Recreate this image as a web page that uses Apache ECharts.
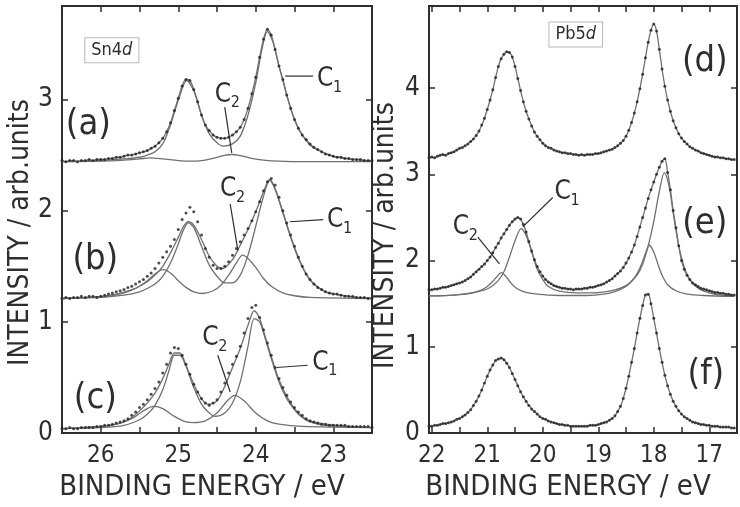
<!DOCTYPE html>
<html>
<head>
<meta charset="utf-8">
<title>Sn4d / Pb5d</title>
<script src="https://cdn.jsdelivr.net/npm/echarts@6/dist/echarts.min.js"></script>
<style>
  html, body { margin: 0; padding: 0; background: #fff; }
  #chart { width: 740px; height: 507px; }
</style>
</head>
<body>
<div id="chart"></div>
<script>
/* ---------------- style ---------------- */
const FONT = "'Liberation Sans Narrow','DejaVu Sans Condensed','Liberation Sans',sans-serif";
const INK = '#2e2e2e';
const FIT = '#707070';

/* ---------------- energy grids of the measured points (eV) ---------------- */
function energyGrid(from, to, step) {
  const out = [];
  const n = Math.round((from - to) / step);
  for (let i = 0; i <= n; i++) out.push(+(from - i * step).toFixed(2));
  return out;
}
const snEnergy = energyGrid(26.5, 22.5, 0.05);   // 81 points
const pbEnergy = energyGrid(22.05, 16.55, 0.05); // 111 points

/* ---------------- Sn4d measured intensities ---------------- */
const snA = [
  2.45, 2.44, 2.45, 2.45, 2.44, 2.45, 2.45, 2.46, 2.45, 2.46,
  2.46, 2.46, 2.47, 2.47, 2.48, 2.48, 2.49, 2.50, 2.50, 2.51,
  2.52, 2.53, 2.54, 2.56, 2.58, 2.61, 2.65, 2.71, 2.79, 2.90,
  3.01, 3.12, 3.18, 3.17, 3.09, 2.98, 2.86, 2.77, 2.72, 2.68,
  2.66, 2.65, 2.65, 2.66, 2.68, 2.71, 2.75, 2.82, 2.92, 3.05,
  3.20, 3.38, 3.54, 3.63, 3.58, 3.45, 3.30, 3.18, 3.04, 2.92,
  2.82, 2.74, 2.68, 2.64, 2.60, 2.57, 2.55, 2.53, 2.51, 2.50,
  2.49, 2.48, 2.48, 2.47, 2.47, 2.46, 2.46, 2.46, 2.45, 2.45,
  2.45
];
const snB = [
  1.21, 1.22, 1.21, 1.22, 1.22, 1.23, 1.22, 1.23, 1.23, 1.22,
  1.23, 1.24, 1.25, 1.26, 1.27, 1.28, 1.29, 1.31, 1.32, 1.34,
  1.36, 1.38, 1.41, 1.44, 1.48, 1.53, 1.58, 1.63, 1.68, 1.74,
  1.83, 1.92, 1.98, 2.03, 1.99, 1.90, 1.78, 1.66, 1.58, 1.51,
  1.48, 1.48, 1.50, 1.54, 1.60, 1.66, 1.72, 1.78, 1.84, 1.91,
  1.99, 2.08, 2.18, 2.26, 2.29, 2.23, 2.12, 2.00, 1.89, 1.78,
  1.68, 1.58, 1.50, 1.43, 1.38, 1.34, 1.31, 1.29, 1.27, 1.26,
  1.25, 1.25, 1.24, 1.23, 1.23, 1.23, 1.22, 1.22, 1.22, 1.21,
  1.21
];
const snC = [
  0.04, 0.04, 0.05, 0.04, 0.04, 0.05, 0.05, 0.05, 0.05, 0.06,
  0.06, 0.07, 0.07, 0.08, 0.09, 0.10, 0.11, 0.13, 0.16, 0.19,
  0.23, 0.26, 0.30, 0.35, 0.40, 0.46, 0.54, 0.62, 0.72, 0.77,
  0.76, 0.70, 0.62, 0.53, 0.44, 0.37, 0.31, 0.27, 0.25, 0.27,
  0.30, 0.37, 0.45, 0.54, 0.62, 0.69, 0.78, 0.90, 1.03, 1.13,
  1.15, 1.04, 0.93, 0.81, 0.70, 0.59, 0.49, 0.41, 0.34, 0.28,
  0.23, 0.19, 0.16, 0.13, 0.11, 0.10, 0.09, 0.08, 0.08, 0.07,
  0.07, 0.07, 0.07, 0.07, 0.06, 0.06, 0.06, 0.06, 0.06, 0.06,
  0.05
];

/* ---------------- Pb5d measured intensities ---------------- */
const pbD = [
  3.19, 3.20, 3.19, 3.21, 3.22, 3.23, 3.22, 3.24, 3.25, 3.26,
  3.28, 3.30, 3.31, 3.33, 3.35, 3.38, 3.41, 3.45, 3.50, 3.57,
  3.65, 3.75, 3.86, 3.98, 4.12, 4.25, 4.34, 4.39, 4.42, 4.41,
  4.36, 4.25, 4.11, 3.97, 3.84, 3.73, 3.64, 3.56, 3.49, 3.44,
  3.40, 3.36, 3.33, 3.31, 3.30, 3.28, 3.27, 3.26, 3.25, 3.25,
  3.24, 3.24, 3.23, 3.23, 3.22, 3.23, 3.22, 3.23, 3.23, 3.23,
  3.24, 3.24, 3.25, 3.26, 3.27, 3.28, 3.29, 3.31, 3.33, 3.36,
  3.39, 3.44, 3.51, 3.60, 3.71, 3.84, 3.99, 4.16, 4.35, 4.53,
  4.67, 4.74, 4.66, 4.45, 4.22, 4.02, 3.86, 3.73, 3.62, 3.54,
  3.47, 3.42, 3.38, 3.35, 3.32, 3.30, 3.28, 3.27, 3.25, 3.24,
  3.23, 3.22, 3.21, 3.20, 3.20, 3.19, 3.19, 3.18, 3.18, 3.17,
  3.17
];
const pbE = [
  1.66, 1.66, 1.67, 1.67, 1.68, 1.69, 1.69, 1.70, 1.71, 1.72,
  1.73, 1.74, 1.75, 1.77, 1.79, 1.81, 1.84, 1.87, 1.90, 1.93,
  1.96, 2.00, 2.04, 2.09, 2.15, 2.20, 2.26, 2.31, 2.36, 2.41,
  2.45, 2.48, 2.50, 2.48, 2.42, 2.33, 2.22, 2.11, 2.01, 1.93,
  1.87, 1.82, 1.78, 1.75, 1.73, 1.71, 1.70, 1.69, 1.68, 1.68,
  1.67, 1.67, 1.66, 1.67, 1.67, 1.67, 1.68, 1.68, 1.69, 1.69,
  1.70, 1.71, 1.72, 1.73, 1.75, 1.77, 1.79, 1.82, 1.85, 1.88,
  1.92, 1.97, 2.03, 2.10, 2.18, 2.28, 2.39, 2.50, 2.61, 2.72,
  2.82, 2.91, 3.00, 3.08, 3.15, 3.18, 3.02, 2.82, 2.58, 2.38,
  2.17, 2.00, 1.90, 1.83, 1.78, 1.74, 1.72, 1.70, 1.68, 1.67,
  1.66, 1.65, 1.64, 1.63, 1.63, 1.62, 1.62, 1.61, 1.61, 1.60,
  1.60
];
const pbF = [
  0.08, 0.08, 0.09, 0.09, 0.10, 0.11, 0.11, 0.12, 0.13, 0.14,
  0.16, 0.17, 0.19, 0.21, 0.24, 0.27, 0.32, 0.37, 0.43, 0.50,
  0.58, 0.66, 0.73, 0.79, 0.84, 0.86, 0.87, 0.85, 0.81, 0.76,
  0.69, 0.62, 0.55, 0.48, 0.42, 0.37, 0.32, 0.28, 0.25, 0.22,
  0.19, 0.17, 0.16, 0.14, 0.13, 0.12, 0.11, 0.10, 0.10, 0.09,
  0.09, 0.08, 0.08, 0.08, 0.08, 0.08, 0.08, 0.08, 0.09, 0.09,
  0.09, 0.10, 0.11, 0.12, 0.13, 0.15, 0.17, 0.20, 0.25, 0.31,
  0.40, 0.52, 0.66, 0.82, 0.98, 1.16, 1.33, 1.48, 1.60, 1.61,
  1.50, 1.33, 1.16, 0.98, 0.82, 0.67, 0.55, 0.45, 0.37, 0.31,
  0.26, 0.22, 0.19, 0.17, 0.15, 0.13, 0.12, 0.11, 0.10, 0.10,
  0.09, 0.09, 0.08, 0.08, 0.08, 0.07, 0.07, 0.07, 0.07, 0.06,
  0.06
];

/* ---------------- fitted curves [eV, intensity] ---------------- */
const fitB = [[26.5,1.21],[26.2,1.22],[26.0,1.23],[25.8,1.25],[25.6,1.29],[25.5,1.32],[25.4,1.36],[25.3,1.42],[25.2,1.50],[25.1,1.62],[25.0,1.76],[24.93,1.86],[24.87,1.90],[24.8,1.87],[24.7,1.74],[24.6,1.59],[24.5,1.50],[24.43,1.48],[24.3,1.56],[24.2,1.69],[24.1,1.83],[24.0,1.99],[23.9,2.17],[23.82,2.28],[23.75,2.20],[23.65,1.99],[23.55,1.77],[23.45,1.58],[23.35,1.43],[23.25,1.34],[23.1,1.27],[22.9,1.24],[22.7,1.22],[22.5,1.21]];
const fitC = [[26.5,0.04],[26.2,0.05],[26.0,0.06],[25.8,0.08],[25.7,0.10],[25.6,0.14],[25.5,0.20],[25.4,0.27],[25.3,0.36],[25.2,0.49],[25.12,0.62],[25.05,0.72],[24.98,0.72],[24.9,0.61],[24.8,0.44],[24.7,0.31],[24.62,0.26],[24.5,0.29],[24.4,0.42],[24.3,0.59],[24.2,0.76],[24.1,0.97],[24.02,1.10],[23.95,1.03],[23.9,0.92],[23.8,0.69],[23.7,0.48],[23.6,0.33],[23.5,0.22],[23.4,0.15],[23.3,0.11],[23.1,0.08],[22.8,0.06],[22.5,0.05]];

const c1A = [[26.5,2.44],[26.0,2.45],[25.7,2.465],[25.5,2.48],[25.4,2.50],[25.3,2.53],[25.2,2.60],[25.1,2.77],[25.0,2.99],[24.89,3.17],[24.8,3.08],[24.7,2.86],[24.6,2.69],[24.5,2.61],[24.42,2.58],[24.3,2.60],[24.2,2.67],[24.1,2.86],[24.0,3.15],[23.92,3.45],[23.85,3.61],[23.78,3.52],[23.7,3.30],[23.6,3.04],[23.5,2.82],[23.4,2.68],[23.3,2.59],[23.2,2.545],[23.0,2.49],[22.8,2.465],[22.5,2.445]];
const c2A = [[26.5,2.44],[26.0,2.445],[25.7,2.455],[25.5,2.465],[25.37,2.474],[25.2,2.465],[25.0,2.45],[24.85,2.445],[24.7,2.45],[24.55,2.47],[24.42,2.495],[24.31,2.505],[24.2,2.495],[24.05,2.47],[23.9,2.455],[23.7,2.445],[23.4,2.44],[22.5,2.44]];
const c1B = [[26.5,1.21],[26.0,1.22],[25.7,1.24],[25.5,1.27],[25.4,1.30],[25.3,1.34],[25.2,1.41],[25.1,1.53],[25.0,1.70],[24.93,1.83],[24.87,1.89],[24.8,1.85],[24.7,1.68],[24.6,1.51],[24.5,1.41],[24.4,1.35],[24.3,1.35],[24.2,1.42],[24.1,1.60],[24.0,1.86],[23.9,2.13],[23.82,2.27],[23.75,2.19],[23.65,1.98],[23.55,1.76],[23.45,1.57],[23.35,1.43],[23.25,1.34],[23.1,1.27],[22.9,1.24],[22.7,1.22],[22.5,1.21]];
const c2B = [[26.5,1.21],[26.1,1.22],[25.9,1.23],[25.7,1.26],[25.55,1.30],[25.4,1.37],[25.3,1.43],[25.2,1.47],[25.1,1.44],[25.0,1.37],[24.9,1.31],[24.8,1.27],[24.68,1.255],[24.55,1.28],[24.45,1.33],[24.35,1.42],[24.25,1.53],[24.17,1.60],[24.1,1.57],[24.0,1.49],[23.9,1.39],[23.8,1.32],[23.65,1.26],[23.5,1.235],[23.3,1.22],[22.5,1.21]];
const c1C = [[26.5,0.04],[26.0,0.05],[25.7,0.07],[25.5,0.12],[25.4,0.17],[25.3,0.25],[25.2,0.39],[25.12,0.56],[25.05,0.70],[24.98,0.70],[24.9,0.60],[24.8,0.41],[24.7,0.26],[24.6,0.18],[24.52,0.15],[24.4,0.18],[24.3,0.27],[24.2,0.46],[24.1,0.78],[24.02,1.03],[23.95,1.00],[23.9,0.90],[23.8,0.67],[23.7,0.46],[23.6,0.31],[23.5,0.21],[23.4,0.14],[23.3,0.10],[23.1,0.07],[22.8,0.06],[22.5,0.05]];
const c2C = [[26.5,0.04],[26.2,0.05],[26.0,0.06],[25.8,0.08],[25.6,0.13],[25.45,0.20],[25.32,0.24],[25.2,0.22],[25.05,0.15],[24.9,0.10],[24.8,0.094],[24.65,0.11],[24.5,0.18],[24.38,0.28],[24.27,0.34],[24.15,0.29],[24.0,0.18],[23.85,0.11],[23.7,0.08],[23.4,0.06],[22.5,0.05]];
const c1E = [[22.05,1.59],[21.6,1.60],[21.2,1.635],[21.0,1.67],[20.9,1.71],[20.8,1.77],[20.7,1.87],[20.6,2.04],[20.5,2.23],[20.39,2.37],[20.3,2.29],[20.2,2.10],[20.1,1.90],[20.0,1.78],[19.9,1.70],[19.7,1.645],[19.4,1.625],[19.1,1.625],[18.8,1.645],[18.6,1.68],[18.45,1.73],[18.3,1.83],[18.2,1.96],[18.1,2.17],[18.0,2.45],[17.9,2.80],[17.81,3.02],[17.72,2.85],[17.65,2.55],[17.55,2.17],[17.45,1.92],[17.35,1.78],[17.2,1.68],[17.0,1.625],[16.8,1.60],[16.55,1.59]];
const c2E = [[22.05,1.59],[21.6,1.60],[21.3,1.62],[21.1,1.66],[21.0,1.70],[20.9,1.76],[20.83,1.81],[20.75,1.86],[20.67,1.82],[20.6,1.76],[20.5,1.69],[20.35,1.64],[20.1,1.61],[19.7,1.595],[19.2,1.595],[18.9,1.61],[18.7,1.64],[18.5,1.70],[18.4,1.76],[18.3,1.85],[18.2,1.99],[18.14,2.10],[18.08,2.18],[18.0,2.10],[17.92,1.95],[17.85,1.83],[17.75,1.72],[17.6,1.65],[17.4,1.61],[17.1,1.595],[16.55,1.585]];

/* ---------------- annotations (data coordinates) ---------------- */
// panel letters: [grid, text, E, I]
const panelTags = [
  [0, '(a)', 26.16, 2.77], [0, '(b)', 26.07, 1.56], [0, '(c)', 26.07, 0.31],
  [1, '(d)', 17.08, 4.30], [1, '(e)', 17.08, 2.43], [1, '(f)', 17.06, 0.68]
];
// component labels C_n: [grid, subscript, E, I] (left-middle of the "C")
const compTags = [
  [0, '1', 23.21, 3.18], [0, '2', 24.53, 3.04],
  [0, '1', 23.08, 1.91], [0, '2', 24.46, 2.19],
  [0, '1', 23.27, 0.63], [0, '2', 24.69, 0.85],
  [1, '1', 19.79, 2.79], [1, '2', 21.62, 2.38]
];
// leader lines: [grid, E1, I1, E2, I2]
const leaders = [
  [0, 23.62, 3.21, 23.26, 3.21], [0, 24.40, 2.93, 24.31, 2.52],
  [0, 23.56, 1.90, 23.13, 1.92], [0, 24.33, 2.06, 24.23, 1.64],
  [0, 23.73, 0.59, 23.33, 0.61], [0, 24.49, 0.70, 24.33, 0.37],
  [1, 19.82, 2.73, 20.36, 2.39], [1, 21.17, 2.27, 20.78, 1.96]
];
// element boxes: [grid, element, E, I] (top-left corner)
const elementBoxes = [[0, 'Sn4', 26.20, 3.55], [1, 'Pb5', 19.88, 4.76]];

/* ---------------- build ---------------- */
const zip = (xs, ys) => xs.map((x, i) => [x, ys[i]]);

function dots(g, xs, ys) {
  return {
    type: 'scatter', xAxisIndex: g * 2, yAxisIndex: g * 2,
    data: zip(xs, ys), symbolSize: 3, silent: true, z: 5,
    itemStyle: {color: '#222'}
  };
}
function curve(g, data) {
  return {
    type: 'line', xAxisIndex: g * 2, yAxisIndex: g * 2,
    data: data, showSymbol: false, smooth: 0.3, silent: true, z: 3,
    lineStyle: {color: FIT, width: 1.3}
  };
}

const series = [
  curve(0, zip(snEnergy, snA)), curve(0, c1A), curve(0, c2A),
  curve(0, fitB), curve(0, c1B), curve(0, c2B),
  curve(0, fitC), curve(0, c1C), curve(0, c2C),
  dots(0, snEnergy, snA), dots(0, snEnergy, snB), dots(0, snEnergy, snC),
  curve(1, zip(pbEnergy, pbD)), curve(1, zip(pbEnergy, pbE)), curve(1, c1E), curve(1, c2E),
  curve(1, zip(pbEnergy, pbF)),
  dots(1, pbEnergy, pbD), dots(1, pbEnergy, pbE), dots(1, pbEnergy, pbF)
];
const firstSeriesOfGrid = [0, 12];

const intLabel = v => (Number.isInteger(v) ? String(v) : '');

function xAxisOf(g, min, max, pos) {
  const ax = {
    gridIndex: g, type: 'value', position: pos, min: min, max: max, interval: 0.5, inverse: true,
    axisLine: {onZero: false, lineStyle: {color: INK, width: 2}},
    axisTick: {inside: true, length: 6, lineStyle: {color: INK, width: 1.5}},
    splitLine: {show: false},
    axisLabel: {show: false}
  };
  if (pos === 'bottom') {
    ax.axisLabel = {show: true, formatter: intLabel, color: INK, fontFamily: FONT, fontSize: 24, margin: 11};
    ax.name = 'BINDING ENERGY / eV';
    ax.nameLocation = 'middle';
    ax.nameGap = 32;
    ax.nameTextStyle = {color: INK, fontFamily: FONT, fontSize: 29, padding: [0, 30, 0, 0]};
  }
  return ax;
}
function yAxisOf(g, max, pos, gap, shift) {
  const ax = {
    gridIndex: g, type: 'value', position: pos, min: 0, max: max, interval: 1,
    axisLine: {onZero: false, lineStyle: {color: INK, width: 2}},
    axisTick: {inside: true, length: 6, lineStyle: {color: INK, width: 1.5}},
    splitLine: {show: false},
    axisLabel: {show: false}
  };
  if (pos === 'left') {
    ax.axisLabel = {show: true, formatter: intLabel, color: INK, fontFamily: FONT, fontSize: 26, margin: 9};
    ax.name = 'INTENSITY / arb.units';
    ax.nameLocation = 'middle';
    ax.nameGap = gap;
    // extra padding at the text end pushes the rotated title down the axis
    ax.nameTextStyle = {color: INK, fontFamily: FONT, fontSize: 28, padding: [0, shift, 0, 0]};
  }
  return ax;
}

const chart = echarts.init(document.getElementById('chart'));
chart.setOption({
  animation: false,
  backgroundColor: '#fff',
  grid: [
    {left: 62, top: 6, width: 310, height: 439},
    {left: 429, top: 6, width: 309, height: 437}
  ],
  xAxis: [
    xAxisOf(0, 22.5, 26.5, 'bottom'), xAxisOf(0, 22.5, 26.5, 'top'),
    xAxisOf(1, 16.5, 22.05, 'bottom'), xAxisOf(1, 16.5, 22.05, 'top')
  ],
  yAxis: [
    yAxisOf(0, 3.84, 'left', 23, 26), yAxisOf(0, 3.84, 'right'),
    yAxisOf(1, 4.95, 'left', 29, 32), yAxisOf(1, 4.95, 'right')
  ],
  series: series
});

/* ---------------- annotations placed through the axes ---------------- */
const toPx = (g, e, v) => chart.convertToPixel({seriesIndex: firstSeriesOfGrid[g]}, [e, v]);
const graphic = [];

panelTags.forEach(([g, t, e, v]) => {
  const p = toPx(g, e, v);
  graphic.push({type: 'text', x: p[0], y: p[1], z: 10, style: {
    text: t, fill: INK, fontFamily: FONT, fontSize: 36,
    align: 'center', verticalAlign: 'middle', textAlign: 'center', textVerticalAlign: 'middle'}});
});
compTags.forEach(([g, sub, e, v]) => {
  const p = toPx(g, e, v);
  graphic.push({type: 'text', x: p[0], y: p[1], z: 10, style: {
    text: 'C', fill: INK, fontFamily: FONT, fontSize: 26,
    align: 'left', verticalAlign: 'middle', textAlign: 'left', textVerticalAlign: 'middle'}});
  graphic.push({type: 'text', x: p[0] + 16, y: p[1] + 8, z: 10, style: {
    text: sub, fill: INK, fontFamily: FONT, fontSize: 16,
    align: 'left', verticalAlign: 'middle', textAlign: 'left', textVerticalAlign: 'middle'}});
});
leaders.forEach(([g, e1, v1, e2, v2]) => {
  const a = toPx(g, e1, v1), b = toPx(g, e2, v2);
  graphic.push({type: 'line', z: 10, shape: {x1: a[0], y1: a[1], x2: b[0], y2: b[1]},
    style: {stroke: INK, lineWidth: 1.2}});
});
elementBoxes.forEach(([g, name, e, v]) => {
  const p = toPx(g, e, v);
  graphic.push({type: 'text', x: p[0], y: p[1], z: 10, style: {
    text: '{n|' + name + '}{i|d}',
    rich: {
      n: {fontFamily: FONT, fontSize: 18, fill: INK, color: INK},
      i: {fontFamily: FONT, fontSize: 18, fontStyle: 'italic', fill: INK, color: INK}
    },
    align: 'left', verticalAlign: 'top', textAlign: 'left', textVerticalAlign: 'top',
    backgroundColor: '#fff', borderColor: '#b8b8b8', borderWidth: 1, padding: [3, 6]}});
});
chart.setOption({graphic: graphic});

window.onresize = function () { chart.resize(); };
</script>
</body>
</html>
